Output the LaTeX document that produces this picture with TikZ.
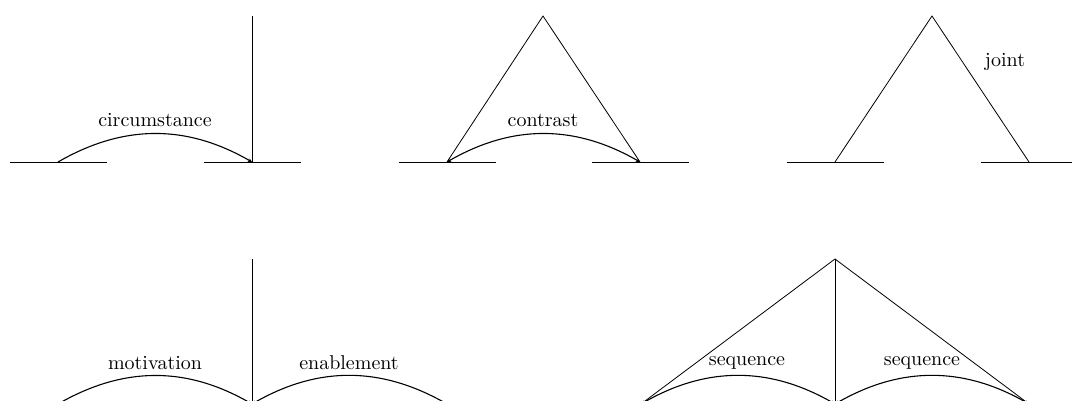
\documentclass[tikz,border=0pt]{standalone}
\usepackage{tikz}
\usetikzlibrary{arrows.meta, positioning}

\begin{document}
\begin{tikzpicture}[
	x=0.5pt, y=0.5pt,
	segline/.style={draw, thin},
	arcrel/.style={draw, line width=0.55pt, bend left=30, -{Stealth[length=2pt, width=2pt]}},
	multirel/.style={draw, line width=0.55pt, bend left=30, {Stealth[length=2pt, width=2pt]}-{Stealth[length=2pt, width=2pt]}},
	relname/.style={inner sep=1pt},
	]
	\useasboundingbox (0,0) rectangle (1072,401);
	
	% text spans
	\foreach \name/\x/\y in {c1s/58/239, c1n/252/239, c2a/447/239, c2b/640/239,
		j1/835/239, j2/1029/239, m1/58/-3, m2/252/-3, m3/447/-3,
		s1/641/-3, s2/835/-3, s3/1029/-3} {
		\coordinate (\name) at (\x,\y);
		\draw[segline] ([xshift=-24.25pt]\name) -- ([xshift=24.25pt]\name);
	}
	\coordinate (top1) at (252,385);
	\coordinate (top2) at (543,385);
	\coordinate (top3) at (932,385);
	\coordinate (top4) at (252,142);
	\coordinate (top5) at (835,142);
	
	% circumstance
	\draw [segline] (top1) -- (c1n);
	\path [arcrel] (c1s) to (c1n);
	\node [relname] (lcirc) at (155,281) {circumstance};
	
	% contrast
	\draw [segline] (c2a) -- (top2) -- (c2b);
	\path [multirel] (c2a) to (c2b);
	\node [relname] (lcontr) at (543,281) {contrast};
	
	% joint
	\draw [segline] (j1) -- (top3) -- (j2);
	\node [relname] (ljoint) at (1005,339) {joint};
	
	% motivation / enablement
	\draw [segline] (top4) -- (m2);
	\path [arcrel] (m1) to (m2);
	\path [arcrel, bend right=30] (m3) to (m2);
	\node [relname] (lmotiv) at (155,38) {motivation};
	\node [relname] (lenabl) at (349,38) {enablement};
	
	% sequence
	\draw [segline] (s1) -- (top5) -- (s3);
	\draw [segline] (top5) -- (s2);
	\path [multirel] (s1) to (s2);
	\path [multirel] (s2) to (s3);
	\node [relname] (lseq1) at (747,38) {sequence};
	\node [relname] (lseq2) at (922,38) {sequence};
\end{tikzpicture}
\end{document}
